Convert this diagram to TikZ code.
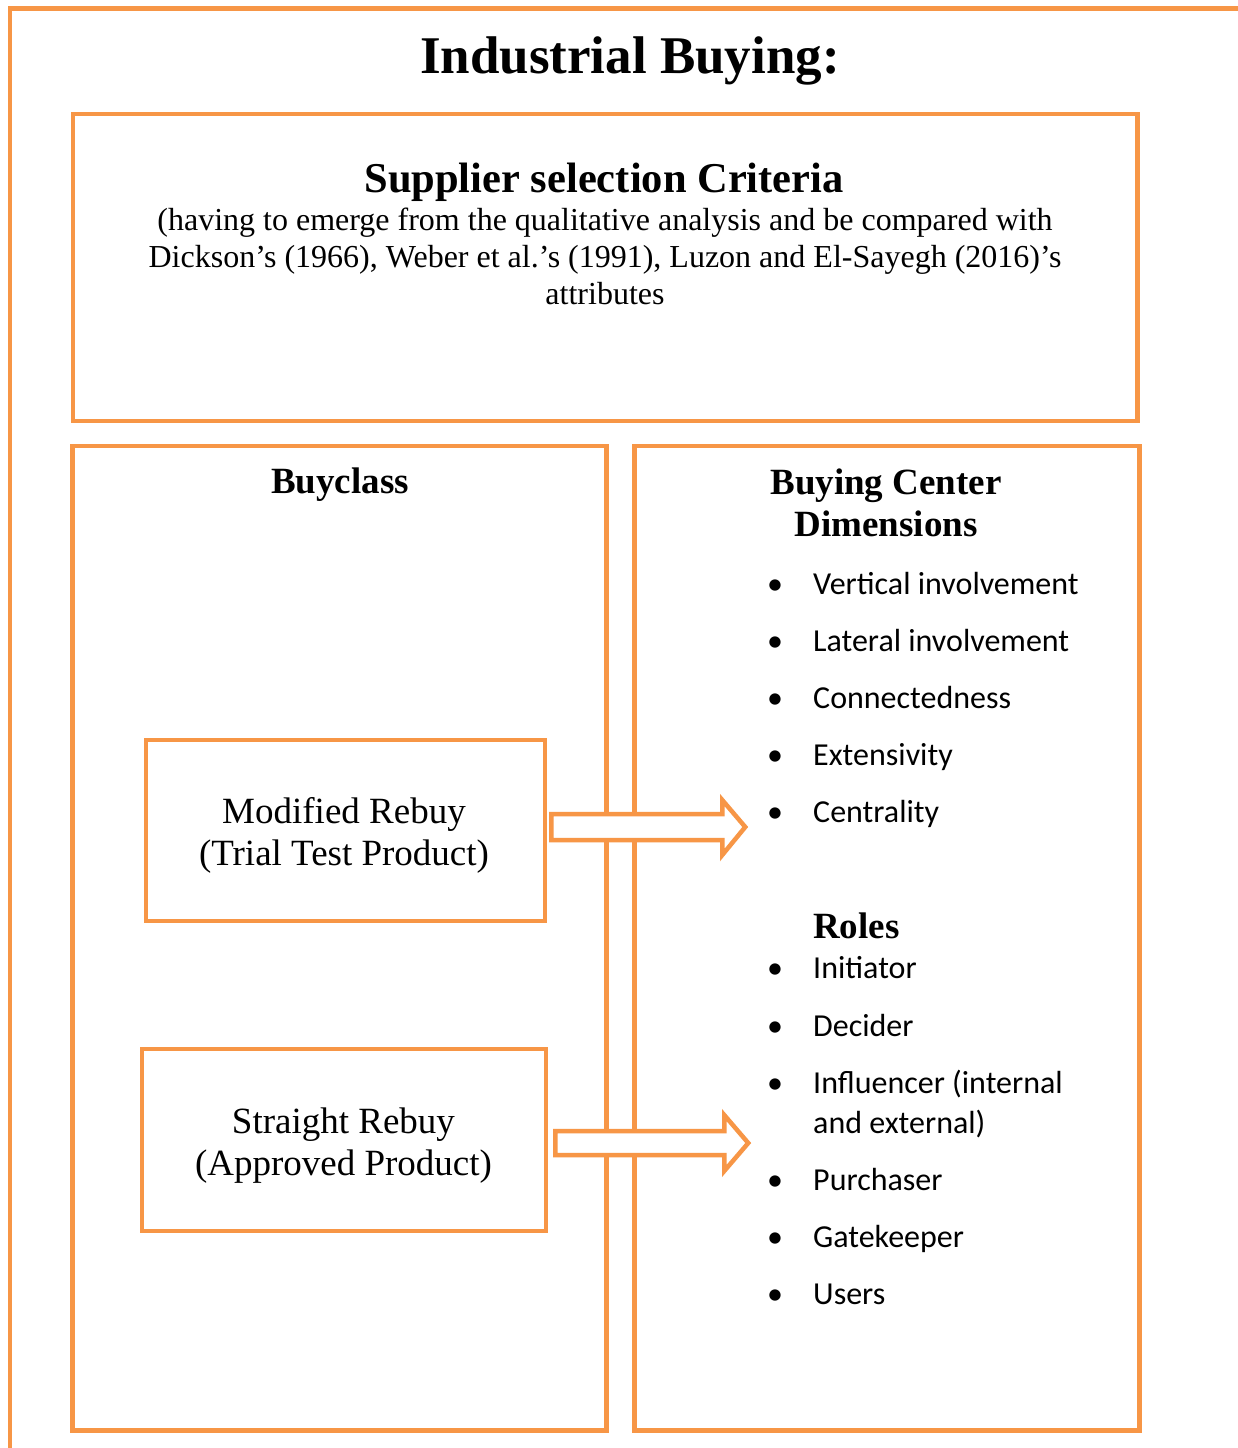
\documentclass[tikz,border=0pt]{standalone}
\usepackage{fontspec}
\setmainfont{Liberation Serif}
\newfontfamily\listfont{Carlito}
\usetikzlibrary{calc}
\definecolor{accent}{HTML}{F79646}

\begin{document}
\begin{tikzpicture}[x=1pt, y=-1pt,
  frameline/.style={draw=accent, line width=4.5pt},
  panel/.style={draw=accent, line width=4.5pt, fill=white, rectangle, inner sep=0pt},
  blockarrow/.style={draw=accent, line width=4.5pt, fill=white, line join=miter},
  headtext/.style={font=\bfseries\fontsize{37}{42}\selectfont, align=center, inner sep=0pt},
  casetext/.style={font=\fontsize{37}{42}\selectfont, align=center, inner sep=0pt},
  itemtext/.style={font=\listfont\fontsize{32}{40}\selectfont, anchor=base west, inner sep=0pt, align=left},
  dot/.style={font=\listfont\fontsize{32}{40}\selectfont, anchor=base, inner sep=0pt}
]
\useasboundingbox (0,0) rectangle (1237,1448);

% open outer frame (left and top sides)
\draw[frameline] (10,1470) -- (10,8.5) -- (1260,8.5);

% title
\node[font=\bfseries\fontsize{53}{60}\selectfont, anchor=base, inner sep=0pt] (title) at (630,73.5) {Industrial Buying:};

% supplier selection criteria panel
\node[panel, minimum width=1064.5pt, minimum height=307pt] (criteria) at (605.25,267.5) {};
\node[font=\bfseries\fontsize{42.5}{46}\selectfont, anchor=base, inner sep=0pt] (criteriahead) at (604,192) {Supplier selection Criteria};
\node[font=\fontsize{32}{36.8}\selectfont, align=center, inner sep=0pt] (criteriabody) at (605,256.5)
  {(having to emerge from the qualitative analysis and be compared with\\
   Dickson’s (1966), Weber et al.’s (1991), Luzon and El-Sayegh (2016)’s\\
   attributes};

% buyclass and buying center panels
\node[panel, minimum width=534pt, minimum height=984.5pt] (buyclass) at (339.5,938.25) {};
\node[panel, minimum width=505pt, minimum height=984.5pt] (center) at (887,938.25) {};
\node[headtext, anchor=base] (buyclasshead) at (340,493) {Buyclass};
\node[headtext] (centerhead) at (886,502.5) {Buying Center\\Dimensions};

% buyclass cases
\node[panel, minimum width=399pt, minimum height=181pt] (modified) at (345.5,830.5) {};
\node[casetext] (modifiedtext) at (344,835.5) {Modified Rebuy\\(Trial Test Product)};
\node[panel, minimum width=404pt, minimum height=182pt] (straight) at (344,1140) {};
\node[casetext] (straighttext) at (343.5,1145.5) {Straight Rebuy\\(Approved Product)};

% block arrows from the cases into the buying center
\draw[blockarrow] ($(modified.east)+(4,-16.5)$) -- ++(171,0) -- ++(0,-14) -- ++(23,27)
  -- ++(-23,28) -- ++(0,-15) -- ++(-171,0) -- cycle;
\draw[blockarrow] ($(straight.east)+(7,-9)$) -- ++(169,0) -- ++(0,-16) -- ++(24,28)
  -- ++(-24,28) -- ++(0,-16) -- ++(-169,0) -- cycle;

% buying center dimensions
\foreach \y/\t [count=\i] in {594/Vertical involvement, 651/Lateral involvement,
    708/Connectedness, 765/Extensivity, 822/Centrality} {
  \node[dot] (dimdot\i) at (775,\y) {•};
  \node[itemtext] (dim\i) at (813,\y) {\t};
}

% roles (a two-line item sits on the baseline of its last line)
\node[headtext, anchor=base west] (roleshead) at (813,938) {Roles};
\foreach \y/\ty/\t [count=\i] in {978/978/Initiator, 1036/1036/Decider,
    1093/1133/{Influencer (internal\\and external)}, 1190/1190/Purchaser,
    1247/1247/Gatekeeper, 1304/1304/Users} {
  \node[dot] (roledot\i) at (775,\y) {•};
  \node[itemtext] (role\i) at (813,\ty) {\t};
}
\end{tikzpicture}
\end{document}
